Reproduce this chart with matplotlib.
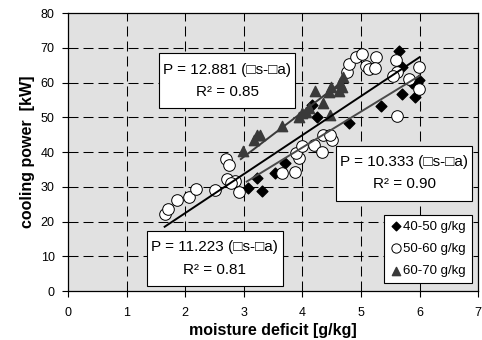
import numpy as np
import matplotlib
matplotlib.use("Agg")
import matplotlib.pyplot as plt
from matplotlib.patches import Rectangle

plt.rcParams["font.family"] = ["Liberation Sans", "DejaVu Sans"]

# ---- data ----
# 40-50 g/kg (diamonds)
x_4050 = [3.08, 3.22, 3.31, 3.54, 3.71, 4.17, 4.25, 4.79, 5.34, 5.65, 5.70, 5.70, 5.87, 5.93, 5.99]
y_4050 = [29.8, 32.5, 28.8, 34.0, 36.8, 53.6, 50.0, 48.4, 53.4, 69.0, 64.6, 56.8, 59.8, 56.0, 60.9]

# 50-60 g/kg (circles)
x_5060 = [1.65, 1.71, 1.86, 2.06, 2.19, 2.51, 2.70, 2.75, 2.71, 2.85, 2.92, 2.78,
          3.65, 3.87, 3.95, 3.89, 3.99, 4.20, 4.34, 4.35, 4.51, 4.48,
          4.76, 4.79, 4.92, 5.02, 5.08, 5.13, 5.26, 5.24, 5.59, 5.62, 5.54,
          5.82, 5.99, 5.99, 5.62]
y_5060 = [22.2, 23.7, 26.2, 27.1, 29.4, 29.1, 38.1, 36.3, 32.3, 31.8, 28.6, 31.0,
          34.0, 34.2, 38.2, 39.8, 41.7, 42.1, 40.1, 44.8, 43.4, 45.0,
          63.2, 65.4, 67.4, 68.3, 64.8, 63.9, 67.3, 64.1, 66.5, 63.2, 61.8,
          61.0, 64.5, 58.3, 50.3]

# 60-70 g/kg (triangles)
x_6070 = [2.99, 3.17, 3.22, 3.27, 3.65, 3.95, 3.99, 4.07, 4.11, 4.21, 4.36, 4.47,
          4.45, 4.49, 4.62, 4.68, 4.65, 4.70]
y_6070 = [40.3, 43.5, 45.0, 45.0, 47.5, 50.2, 51.2, 51.7, 52.6, 57.5, 54.1, 50.7,
          57.4, 58.7, 57.7, 58.9, 59.9, 61.5]

# regression slopes (through origin) and drawn ranges
k_all, xr_all = 11.223, [1.65, 6.0]
k_4050, xr_4050 = 10.333, [3.05, 6.0]
k_6070, xr_6070 = 12.881, [2.95, 4.72]

eq_labels = ["P = 12.881 (\u25a1s-\u25a1a)", "P = 10.333 (\u25a1s-\u25a1a)", "P = 11.223 (\u25a1s-\u25a1a)"]
r2_labels = ["R\u00b2 = 0.85", "R\u00b2 = 0.90", "R\u00b2 = 0.81"]
# box corners (x0, x1, y0, y1) in data units
boxes = [(1.56, 3.87, 52.6, 68.5), (4.58, 6.90, 26.0, 41.9), (1.345, 3.67, 1.4, 17.3)]

# ---- figure ----
fig = plt.figure(figsize=(4.82, 3.40), dpi=100)
ax = fig.add_axes([0.141, 0.144, 0.851, 0.817])
ax.set_facecolor("#e1e1e1")

dash = (0, (9.6, 4.8))
for v in range(1, 7):
    ax.axvline(v, color="black", lw=0.75, linestyle=dash, zorder=1)
for v in range(10, 80, 10):
    ax.axhline(v, color="black", lw=0.75, linestyle=dash, zorder=1)

ax.scatter(x_4050, y_4050, marker="D", s=30, color="black", zorder=3, label="40-50 g/kg")
ax.scatter(x_5060, y_5060, marker="o", s=70, facecolor="white", edgecolor="black",
           linewidths=0.7, zorder=3, label="50-60 g/kg")
ax.scatter(x_6070, y_6070, marker="^", s=55, color="#3a3a3a", zorder=3, label="60-70 g/kg")

xa = np.array(xr_all)
ax.plot(xa, k_all * xa, color="black", lw=1.4, zorder=4)
xb = np.array(xr_4050)
ax.plot(xb, k_4050 * xb, color="#4a4a4a", lw=1.4, zorder=4)
xc = np.array(xr_6070)
ax.plot(xc, k_6070 * xc, color="#3a3a3a", lw=1.4, zorder=4)

# equation boxes
for (x0, x1, y0, y1), eq, r2 in zip(boxes, eq_labels, r2_labels):
    ax.add_patch(Rectangle((x0, y0), x1 - x0, y1 - y0, facecolor="white",
                           edgecolor="black", lw=0.8, zorder=5))
    xm = (x0 + x1) / 2
    ax.text(xm, y1 - 4.7, eq, ha="center", va="center", fontsize=11, zorder=6)
    ax.text(xm, y1 - 11.2, r2, ha="center", va="center", fontsize=11, zorder=6)

leg = ax.legend(loc="lower right", bbox_to_anchor=(0.985, 0.029), fontsize=9.5,
                frameon=True, fancybox=False, edgecolor="black", framealpha=1,
                handletextpad=0.05, handlelength=1.0, borderpad=0.45,
                labelspacing=0.75, markerscale=0.8, borderaxespad=0)
leg.get_frame().set_linewidth(0.8)
leg.set_zorder(7)

ax.set_xlim(0, 7)
ax.set_ylim(0, 80)
ax.set_xticks(range(0, 8))
ax.set_yticks(range(0, 90, 10))
ax.tick_params(direction="out", length=4.5, width=0.8, labelsize=9, colors="black")
ax.tick_params(axis="x", pad=7)
ax.tick_params(axis="y", pad=5)
for s in ax.spines.values():
    s.set_linewidth(0.9)

ax.set_xlabel("moisture deficit [g/kg]", fontsize=11.5, fontweight="bold", labelpad=3)
ax.set_ylabel("cooling power  [kW]", fontsize=11.5, fontweight="bold", labelpad=4)

fig.savefig("out.png", dpi=100)
